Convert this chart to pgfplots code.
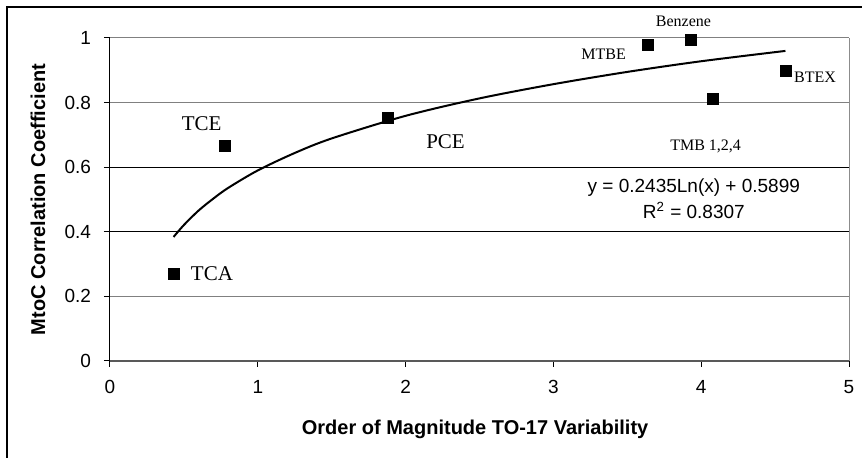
\documentclass[border=0pt]{standalone}
\usepackage{fontspec}
\setmainfont{Liberation Serif}
\newfontfamily\arial{Liberation Sans}
\usepackage{pgfplots}
\pgfplotsset{compat=1.18}

\begin{document}
\begin{tikzpicture}[x=1pt,y=1pt]
\useasboundingbox (0,0) rectangle (431,229);
% outer chart frame (only left and top edges are inside the picture)
\draw[line width=1pt] (3.5,0) -- (3.5,225.25) -- (431,225.25);
\begin{axis}[
	at={(55pt,48.5pt)}, anchor=south west,
	scale only axis, width=369.5pt, height=161.5pt,
	xmin=0, xmax=5, ymin=0, ymax=1,
	xtick={0,1,2,3,4,5},
	ytick={0,0.2,0.4,0.6,0.8,1},
	axis y line*=left, axis x line*=bottom,
	y axis line style={black, line width=0.5pt},
	x axis line style={black!65, line width=0.8pt},
	tick align=outside, major tick length=3pt,
	tick style={black, line width=0.5pt},
	ymajorgrids=true,
	major grid style={black!50, line width=0.5pt},
	extra y ticks={0.4,0.6}, extra y tick labels={},
	extra y tick style={grid=major, major grid style={black, line width=0.5pt}},
	tick label style={font=\arial\fontsize{9.5}{11}\selectfont},
	/pgf/number format/assume math mode=true,
	yticklabel style={xshift=-3pt},
	xticklabel style={yshift=-3pt},
	xlabel={Order of Magnitude TO-17 Variability},
	ylabel={MtoC Correlation Coefficient},
	label style={font=\arial\bfseries\fontsize{10}{12}\selectfont},
	xlabel style={at={(axis description cs:0.494,-0.2105)}, anchor=center},
	ylabel style={at={(axis description cs:-0.0974,0.5)}, anchor=center},
	clip=false,
	]

% logarithmic trend line y = 0.2435 ln(x) + 0.5899
\addplot[black, line width=1pt, smooth] coordinates {
(0.43,0.384) (0.5,0.421) (0.6,0.466) (0.7,0.503) (0.8,0.536) (1.0,0.590)
(1.25,0.644) (1.5,0.689) (2.0,0.759) (2.5,0.813) (3.0,0.857) (3.5,0.895)
(4.0,0.928) (4.57,0.960)};

% compounds
\addplot[only marks, mark=square*, mark size=2.75pt, black] coordinates {
(0.43,0.270) (0.78,0.666) (1.88,0.752) (3.64,0.978) (3.93,0.994)
(4.08,0.811) (4.57,0.898)};

\draw[black!45, line width=0.5pt] (rel axis cs:1,0) -- (rel axis cs:1,1);

\node[font=\fontsize{10.5}{12}\selectfont] at (axis cs:0.69,0.269) {TCA};
\node[font=\fontsize{10.5}{12}\selectfont] at (axis cs:0.62,0.734) {TCE};
\node[font=\fontsize{10.5}{12}\selectfont] at (axis cs:2.27,0.678) {PCE};
\node[font=\fontsize{8}{9}\selectfont] at (axis cs:3.34,0.950) {MTBE};
\node[font=\fontsize{8}{9}\selectfont] at (axis cs:3.88,1.053) {Benzene};
\node[font=\fontsize{8}{9}\selectfont] at (axis cs:4.03,0.663) {TMB 1,2,4};
\node[font=\fontsize{8}{9}\selectfont] at (axis cs:4.77,0.879) {BTEX};

\node[font=\arial\fontsize{9.5}{11}\selectfont] at (axis cs:3.95,0.536) {y = 0.2435Ln(x) + 0.5899};
\node[font=\arial\fontsize{9.5}{11}\selectfont] at (axis cs:3.95,0.466) {R\textsuperscript{2} = 0.8307};
\end{axis}
\end{tikzpicture}
\end{document}
